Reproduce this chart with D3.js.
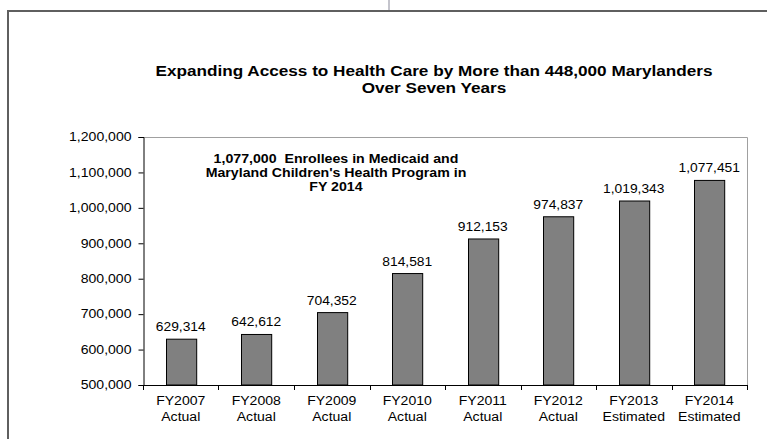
<!DOCTYPE html>
<html>
<head>
<meta charset="utf-8">
<script src="https://cdn.jsdelivr.net/npm/d3@7"></script>
<style>
  html, body { margin: 0; padding: 0; background: #fff; }
  svg { display: block; font-family: "Liberation Sans", Arial, sans-serif; }
</style>
</head>
<body>
<svg id="chart" width="767" height="439"></svg>
<script>
// Enrollment by fiscal year
const years = ["FY2007", "FY2008", "FY2009", "FY2010", "FY2011", "FY2012", "FY2013", "FY2014"];
const status = ["Actual", "Actual", "Actual", "Actual", "Actual", "Actual", "Estimated", "Estimated"];
const enrollees = [629314, 642612, 704352, 814581, 912153, 974837, 1019343, 1077451];
const yTicks = [500000, 600000, 700000, 800000, 900000, 1000000, 1100000, 1200000];
const titleLines = ["Expanding Access to Health Care by More than 448,000 Marylanders", "Over Seven Years"];
const noteLines = ["1,077,000  Enrollees in Medicaid and", "Maryland Children's Health Program in", "FY 2014"];

const svg = d3.select("#chart");
const plot = { left: 143, right: 747, top: 137, bottom: 385 };
const fmt = d3.format(",");

// Widen glyphs horizontally by factor k (the chart's type is set slightly wide)
function stretch(sel, k) {
  sel.each(function () {
    const w = this.getComputedTextLength();
    d3.select(this).attr("textLength", w * k).attr("lengthAdjust", "spacingAndGlyphs");
  });
}

// Outer frame
svg.append("line").attr("x1", 389).attr("x2", 389).attr("y1", 0).attr("y2", 10)
  .attr("stroke", "#c4c4cc").attr("stroke-width", 2);
svg.append("line").attr("x1", 7).attr("x2", 767).attr("y1", 11).attr("y2", 11)
  .attr("stroke", "#5f5f5f").attr("stroke-width", 2);
svg.append("line").attr("x1", 8).attr("x2", 8).attr("y1", 10).attr("y2", 439)
  .attr("stroke", "#5f5f5f").attr("stroke-width", 2);

const x = d3.scaleBand().domain(years).range([plot.left, plot.right])
  .paddingInner(0.6).paddingOuter(0.3);
const y = d3.scaleLinear().domain([500000, 1200000]).range([plot.bottom, plot.top]);

// Plot area border (top and right)
svg.append("path")
  .attr("d", `M${plot.left},${plot.top + 0.5}H${plot.right + 0.5}V${plot.bottom}`)
  .attr("fill", "none").attr("stroke", "#a0a0a0").attr("stroke-width", 1);

// Bars
svg.append("g").selectAll("rect").data(enrollees).join("rect")
  .attr("x", (d, i) => Math.round(x(years[i])) + 0.5)
  .attr("y", d => y(d))
  .attr("width", x.bandwidth())
  .attr("height", d => plot.bottom - y(d))
  .attr("fill", "#808080").attr("stroke", "#000").attr("stroke-width", 1);

// Value labels
svg.append("g").selectAll("text").data(enrollees).join("text")
  .attr("x", (d, i) => x(years[i]) + x.bandwidth() / 2)
  .attr("y", d => y(d) - 8)
  .attr("text-anchor", "middle").attr("font-size", 12).attr("fill", "#000")
  .text(d => fmt(d))
  .call(stretch, 1.15);

// Y axis
const yAxis = svg.append("g").attr("transform", `translate(${plot.left + 0.5},0)`)
  .call(d3.axisLeft(y).tickValues(yTicks).tickFormat(fmt).tickSize(5).tickPadding(7));
yAxis.select(".domain").attr("stroke", "#000");
yAxis.selectAll(".tick line").attr("stroke", "#000");
yAxis.selectAll("text").attr("font-size", 12).attr("fill", "#000")
  .attr("font-family", "Liberation Sans, Arial, sans-serif")
  .call(stretch, 1.17);

// X axis: ticks at category boundaries
const xAxisG = svg.append("g");
xAxisG.append("line").attr("x1", plot.left).attr("x2", plot.right + 0.5)
  .attr("y1", plot.bottom + 0.5).attr("y2", plot.bottom + 0.5).attr("stroke", "#000");
const bounds = d3.range(years.length + 1)
  .map(i => x(years[0]) - x.step() * x.paddingOuter() + i * x.step());
xAxisG.selectAll("line.tick").data(bounds).join("line").attr("class", "tick")
  .attr("x1", d => Math.round(d) + 0.5).attr("x2", d => Math.round(d) + 0.5)
  .attr("y1", plot.bottom).attr("y2", plot.bottom + 5).attr("stroke", "#000");
const xl = xAxisG.selectAll("g.lbl").data(years).join("g").attr("class", "lbl")
  .attr("transform", d => `translate(${x(d) + x.bandwidth() / 2},0)`);
xl.append("text").attr("y", 405).attr("text-anchor", "middle").attr("font-size", 12)
  .text(d => d).call(stretch, 1.17);
xl.append("text").attr("y", 421).attr("text-anchor", "middle").attr("font-size", 12)
  .text((d, i) => status[i]).call(stretch, 1.17);

// Title
svg.append("g").selectAll("text").data(titleLines).join("text")
  .attr("x", 434).attr("y", (d, i) => 76 + i * 17)
  .attr("text-anchor", "middle").attr("font-size", 14).attr("font-weight", "bold")
  .text(d => d).call(stretch, 1.225);

// Annotation
svg.append("g").selectAll("text").data(noteLines).join("text")
  .attr("x", 336).attr("y", (d, i) => 163 + i * 14)
  .attr("text-anchor", "middle").attr("font-size", 12).attr("font-weight", "bold")
  .attr("xml:space", "preserve")
  .text(d => d).call(stretch, 1.18);
</script>
</body>
</html>
